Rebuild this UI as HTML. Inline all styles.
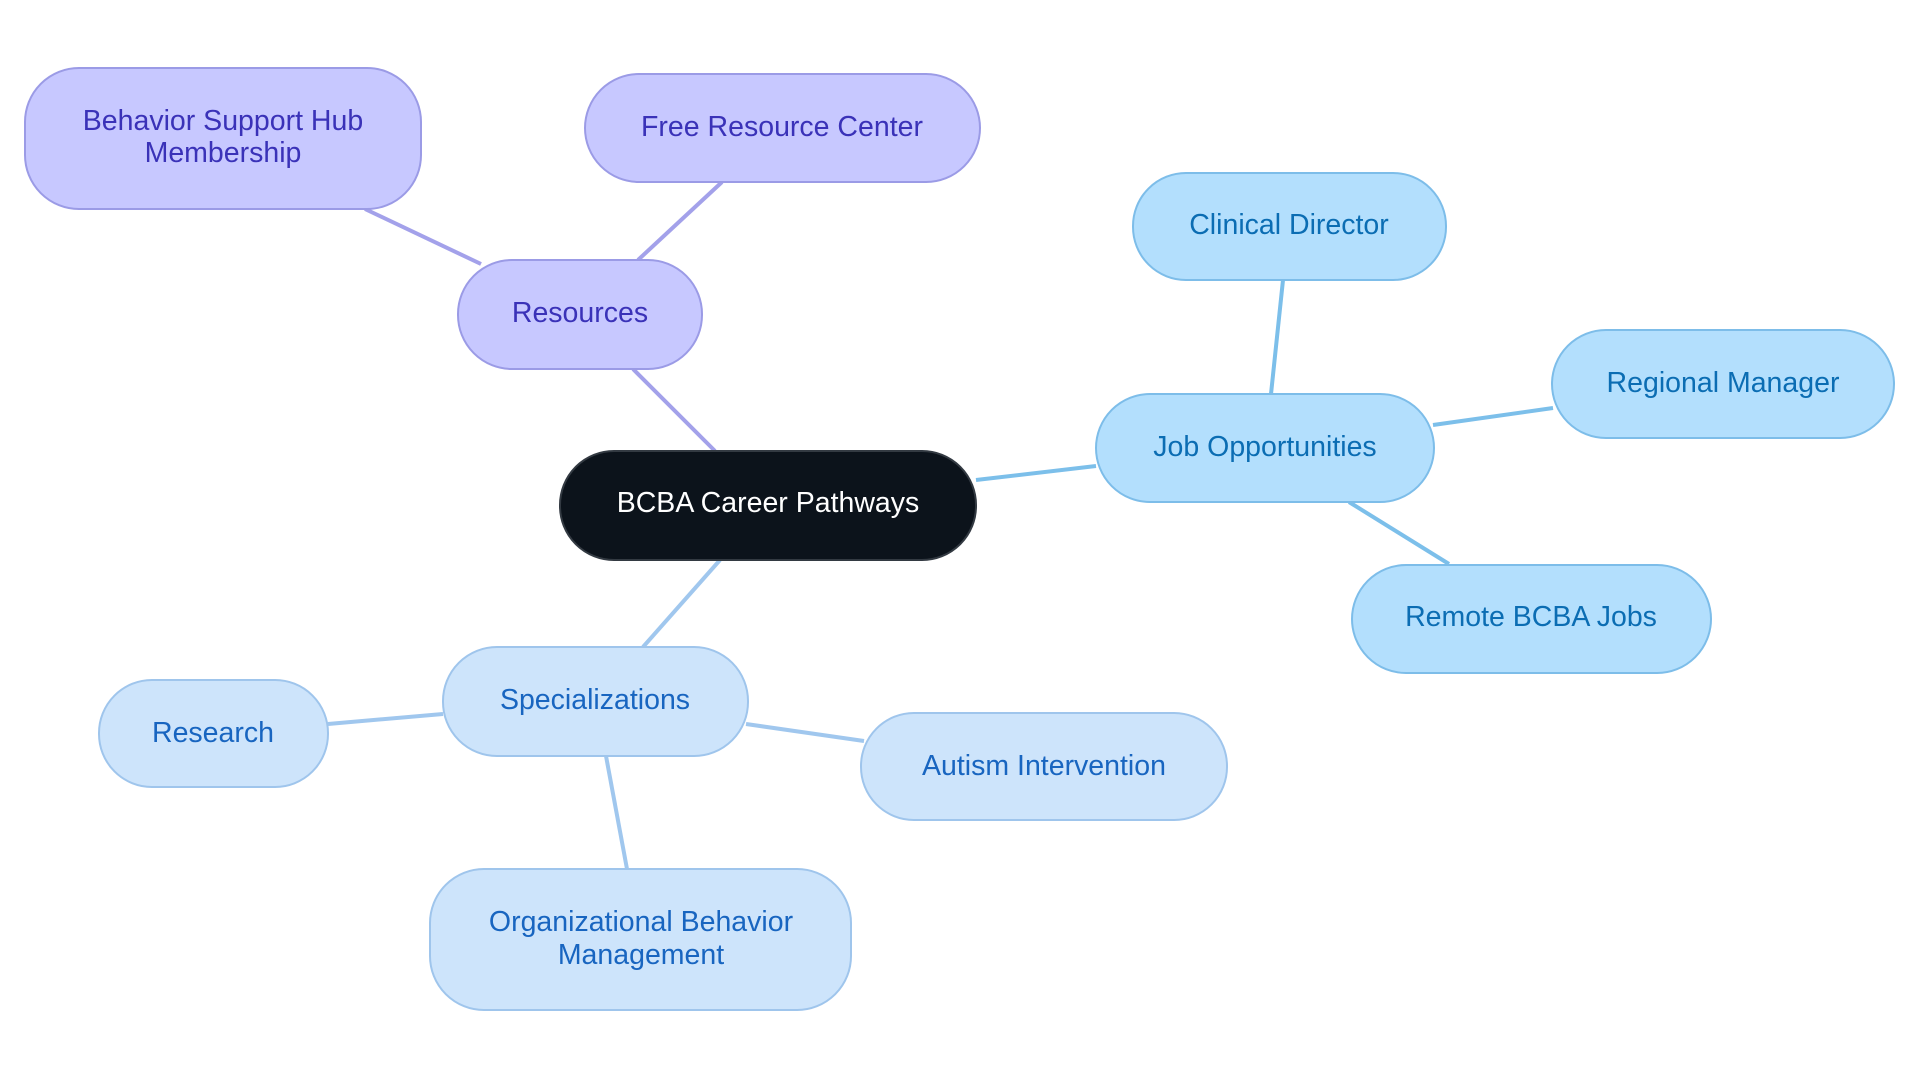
<!DOCTYPE html>
<html><head><meta charset="utf-8"><style>
html,body{margin:0;padding:0;background:#fff;width:1920px;height:1083px;overflow:hidden}
svg text{font-family:"Liberation Sans",sans-serif;font-size:28.5px;text-anchor:middle;dominant-baseline:central}
</style></head><body>
<svg width="1920" height="1083" viewBox="0 0 1920 1083" xmlns="http://www.w3.org/2000/svg">
<g stroke-width="4" fill="none">
<g stroke="#a3a1ea">
<line x1="715" y1="451" x2="633" y2="369"/>
<line x1="481" y1="264" x2="365" y2="209"/>
<line x1="638" y1="260" x2="722" y2="182"/>
</g>
<g stroke="#7cbfea">
<line x1="976" y1="480" x2="1096" y2="466"/>
<line x1="1271" y1="394" x2="1283" y2="280"/>
<line x1="1433" y1="425" x2="1553" y2="408"/>
<line x1="1349" y1="502" x2="1449" y2="564"/>
</g>
<g stroke="#a0c7ee">
<line x1="720" y1="560" x2="643" y2="647"/>
<line x1="443" y1="714" x2="328" y2="724"/>
<line x1="746" y1="724" x2="864" y2="741"/>
<line x1="606" y1="756" x2="627" y2="869"/>
</g>
</g>
<g stroke-width="2">
<rect x="560" y="451" width="416" height="109" rx="54" fill="#0c131b" stroke="#333a42"/>
<g fill="#c7c8ff" stroke="#9b9be6">
<rect x="25" y="68" width="396" height="141" rx="54"/>
<rect x="585" y="74" width="395" height="108" rx="54"/>
<rect x="458" y="260" width="244" height="109" rx="54"/>
</g>
<g fill="#b3dffd" stroke="#7dbde9">
<rect x="1096" y="394" width="338" height="108" rx="54"/>
<rect x="1133" y="173" width="313" height="107" rx="53"/>
<rect x="1552" y="330" width="342" height="108" rx="54"/>
<rect x="1352" y="565" width="359" height="108" rx="54"/>
</g>
<g fill="#cde4fb" stroke="#9fc5ec">
<rect x="443" y="647" width="305" height="109" rx="54"/>
<rect x="99" y="680" width="229" height="107" rx="53"/>
<rect x="861" y="713" width="366" height="107" rx="53"/>
<rect x="430" y="869" width="421" height="141" rx="54"/>
</g>
</g>
<text x="768" y="503" fill="#ffffff">BCBA Career Pathways</text>
<g fill="#3a32b8">
<text x="223" y="121">Behavior Support Hub</text>
<text x="223" y="153">Membership</text>
<text x="782" y="127">Free Resource Center</text>
<text x="580" y="313">Resources</text>
</g>
<g fill="#0b6db3">
<text x="1265" y="447">Job Opportunities</text>
<text x="1289" y="225">Clinical Director</text>
<text x="1723" y="383">Regional Manager</text>
<text x="1531" y="617">Remote BCBA Jobs</text>
</g>
<g fill="#1865c0">
<text x="595" y="700">Specializations</text>
<text x="213" y="733">Research</text>
<text x="1044" y="766">Autism Intervention</text>
<text x="641" y="922">Organizational Behavior</text>
<text x="641" y="955">Management</text>
</g>
</svg>
</body></html>
